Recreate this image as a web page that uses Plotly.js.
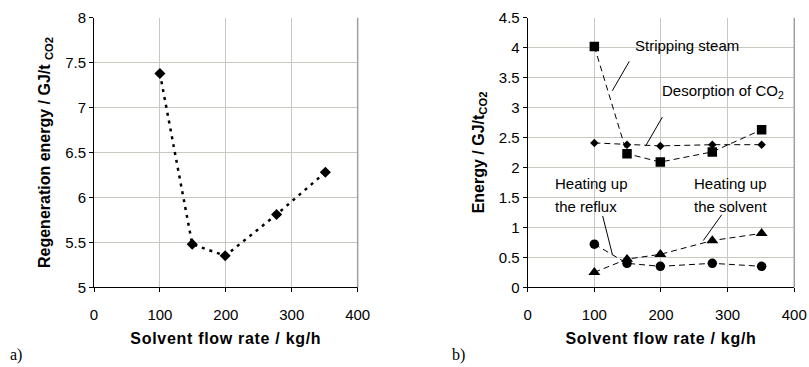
<!DOCTYPE html>
<html>
<head>
<meta charset="utf-8">
<script src="https://cdn.plot.ly/plotly-3.0.1.min.js"></script>
<style>
  html, body { margin: 0; padding: 0; background: #fff; }
  #chart { width: 809px; height: 367px; }
  /* slightly wider tracking for the flow-rate axis titles */
  text.xtitle, text.x2title { letter-spacing: 0.7px; }
</style>
</head>
<body>
<div id="chart"></div>
<script>
// Solvent flow rate (kg/h) for the five operating points
const flowRate = [100, 149, 199, 277, 351];

// a) total regeneration energy, GJ/t CO2
const regenEnergy = [7.38, 5.48, 5.35, 5.81, 6.28];

// b) breakdown of the regeneration energy, GJ/t CO2
const strippingSteam = [4.02, 2.23, 2.09, 2.26, 2.63];
const desorptionCO2 = [2.41, 2.38, 2.36, 2.38, 2.38];
const heatingReflux = [0.72, 0.40, 0.35, 0.40, 0.35];
const heatingSolvent = [0.25, 0.47, 0.55, 0.78, 0.90];

const xTicks = [0, 100, 200, 300, 400];

const SANS = 'Liberation Sans, Arial, sans-serif';
const GRID = '#c8c8c0';
const dashed = { color: '#000', width: 1, dash: '6px,4px' };

const traces = [
  {
    x: flowRate, y: regenEnergy, xaxis: 'x', yaxis: 'y',
    mode: 'lines+markers', type: 'scatter',
    line: { color: '#000', width: 2.5, dash: '3px,5px' },
    marker: { symbol: 'diamond', size: 8.5, color: '#000' }
  },
  {
    x: flowRate, y: strippingSteam, xaxis: 'x2', yaxis: 'y2',
    mode: 'lines+markers', type: 'scatter', line: dashed,
    marker: { symbol: 'square', size: 9.5, color: '#000' }
  },
  {
    x: flowRate, y: desorptionCO2, xaxis: 'x2', yaxis: 'y2',
    mode: 'lines+markers', type: 'scatter', line: dashed,
    marker: { symbol: 'diamond', size: 6.5, color: '#000' }
  },
  {
    x: flowRate, y: heatingReflux, xaxis: 'x2', yaxis: 'y2',
    mode: 'lines+markers', type: 'scatter', line: dashed,
    marker: { symbol: 'circle', size: 9.5, color: '#000' }
  },
  {
    x: flowRate, y: heatingSolvent, xaxis: 'x2', yaxis: 'y2',
    mode: 'lines+markers', type: 'scatter', line: dashed,
    marker: { symbol: 'triangle-up', size: 10.5, color: '#000' }
  }
];

function xAxis(domain, anchor) {
  return {
    domain: domain, anchor: anchor, range: [0, 400],
    tickvals: xTicks, ticks: 'outside', ticklen: 4, tickcolor: '#000',
    ticklabelstandoff: 10,
    showline: true, linecolor: '#000', linewidth: 1,
    showgrid: true, gridcolor: GRID, gridwidth: 1, zeroline: false,
    tickfont: { family: SANS, size: 15, color: '#000' },
    title: { text: 'Solvent flow rate / kg/h', standoff: 10,
             font: { family: SANS, size: 16, color: '#000', weight: 'bold' } }
  };
}

function yAxis(range, dtick, anchor, title, standoff) {
  return {
    domain: [0.2172, 0.9518], anchor: anchor, range: range, dtick: dtick,
    ticks: 'outside', ticklen: 4, tickcolor: '#000',
    showline: true, linecolor: '#000', linewidth: 1,
    showgrid: true, gridcolor: GRID, gridwidth: 1, zeroline: false,
    tickfont: { family: SANS, size: 15, color: '#000' },
    title: { text: title, standoff: standoff,
             font: { family: SANS, size: 16, color: '#000', weight: 'bold' } }
  };
}

// right-hand frame edge of each plot area
const frameEdge = (xr, yr) => ({
  type: 'line', xref: xr + ' domain', yref: yr + ' domain',
  x0: 1, x1: 1, y0: 0, y1: 1, line: { color: '#a0a0a0', width: 1.5 }
});

// leader lines from the labels to their curves
const leader = (x0, y0, x1, y1) => ({
  type: 'line', xref: 'x2', yref: 'y2', x0, y0, x1, y1,
  line: { color: '#000', width: 1 }
});

const label = (text, x, y) => ({
  text, x, y, xref: 'x2', yref: 'y2', showarrow: false,
  xanchor: 'left', yanchor: 'middle',
  font: { family: SANS, size: 15, color: '#000' }
});

const layout = {
  width: 809, height: 367,
  margin: { l: 0, r: 0, t: 0, b: 0 },
  paper_bgcolor: '#fff', plot_bgcolor: '#fff',
  showlegend: false,
  xaxis: xAxis([0.1162, 0.4421], 'y'),
  yaxis: yAxis([5, 8], 0.5, 'x', 'Regeneration energy / GJ/t <sub>CO2</sub>', 10),
  xaxis2: xAxis([0.6523, 0.9818], 'y2'),
  yaxis2: yAxis([0, 4.5], 0.5, 'x2', 'Energy / GJ/t<sub>CO2</sub>', 10),
  shapes: [
    frameEdge('x', 'y'),
    frameEdge('x2', 'y2'),
    leader(152.4, 3.77, 126.9, 3.28),
    leader(202, 2.84, 177, 2.36),
    leader(112.5, 1.19, 127, 0.55),
    leader(291, 1.21, 263.5, 0.78)
  ],
  annotations: [
    label('Stripping steam', 158.4, 4.04),
    label('Desorption of CO<sub>2</sub>', 198.5, 3.26),
    label('Heating up', 38.4, 1.735),
    label('the reflux', 38.4, 1.356),
    label('Heating up', 246.5, 1.735),
    label('the solvent', 246.5, 1.356),
    { text: 'a)', xref: 'paper', yref: 'paper', x: 8 / 809, y: 1 - 355 / 367,
      xanchor: 'left', yanchor: 'middle', showarrow: false,
      font: { family: 'Liberation Serif, Times New Roman, serif', size: 16, color: '#000' } },
    { text: 'b)', xref: 'paper', yref: 'paper', x: 450 / 809, y: 1 - 355 / 367,
      xanchor: 'left', yanchor: 'middle', showarrow: false,
      font: { family: 'Liberation Serif, Times New Roman, serif', size: 16, color: '#000' } }
  ]
};

Plotly.newPlot('chart', traces, layout, { staticPlot: true, displayModeBar: false });
</script>
</body>
</html>
